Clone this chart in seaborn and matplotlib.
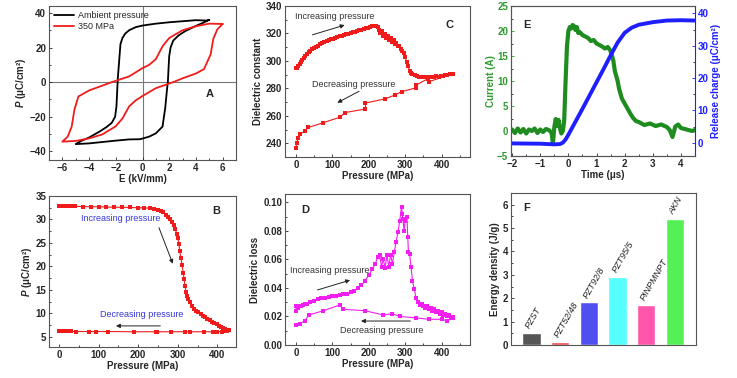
import numpy as np
import pandas as pd
import matplotlib
matplotlib.use('Agg')
import matplotlib.pyplot as plt
from matplotlib.ticker import MultipleLocator
import seaborn as sns

# --- data ---
# A: P-E hysteresis loops (closed paths)
amb_E = [5, 4.8, 4, 3, 2, 1, 0, -0.5, -1, -1.3, -1.5, -1.65, -1.75, -1.85, -1.9, -1.95, -2.05,
         -2.3, -2.7, -3.2, -4, -4.6, -5, -4, -3, -2, -1, -0.2, 0, 0.5, 1, 1.5, 1.7, 1.85, 1.9,
         1.95, 2.0, 2.1, 2.3, 2.7, 3.2, 4, 4.6, 5]
amb_P = [36, 35.6, 35.8, 35.2, 34.6, 33.8, 32.7, 31.8, 30, 28, 25.5, 22, 12, 2, -6, -14, -20,
         -23.5, -26, -28.5, -32, -34, -35.8, -35.4, -34.6, -33.8, -33.1, -33, -32.6, -31.5, -29.6,
         -25.7, -15, -3, 0, 8, 15, 20, 24, 27, 29.5, 32.5, 34.5, 36]
hp_E = [6, 5, 4, 3, 2, 1.5, 1, 0.5, 0, -1, -2.3, -3, -4, -4.8, -5.1, -5.3, -5.6, -6,
        -5, -4, -3, -2, -1.5, -1, -0.5, 0, 1, 2.3, 3, 4, 4.6, 5.1, 5.3, 5.6, 6]
hp_P = [33.6, 33.8, 32.3, 30, 25.5, 20.7, 13.3, 10, 8.1, 3.3, 0, -2, -4.8, -8.3, -16, -25.7, -31.5, -34.4,
        -34, -32.5, -30.2, -25.5, -21, -14, -10.5, -8, -3.5, 0, 2.2, 5, 7.5, 16, 25, 30.5, 33.6]

# B: remanent polarisation vs pressure
b_inc_p = [0, 10, 20, 30, 40, 60, 80, 100, 120, 140, 160, 180, 200, 215, 230, 240, 250, 258, 264,
           270, 276, 281, 286, 290, 294, 297, 300, 303, 305, 308, 311, 314, 316, 318, 321, 324, 327,
           331, 335, 340, 346, 352, 358, 364, 369, 375, 381, 386, 392, 398, 403, 409, 414, 419, 424, 428]
b_inc_v = [32.9, 32.9, 32.85, 32.85, 32.8, 32.75, 32.7, 32.7, 32.65, 32.6, 32.6, 32.55, 32.5, 32.45,
           32.4, 32.3, 32.1, 31.8, 31.5, 31.0, 30.6, 30.0, 29.4, 28.8, 27.9, 27.0, 26.0, 24.8, 23.2,
           21.8, 20.2, 18.6, 17.3, 15.8, 14.6, 13.6, 13.0, 12.3, 11.6, 11.0, 10.5, 10.2, 9.8, 9.4, 9.2,
           8.8, 8.5, 8.2, 7.9, 7.6, 7.2, 7.0, 6.8, 6.6, 6.5, 6.5]
b_dec_p = [430, 424, 418, 412, 400, 388, 366, 332, 318, 284, 248, 244, 190, 125, 93, 75, 42, 30,
           20, 12, 5, 0]
b_dec_v = [6.5, 6.3, 6.2, 6.1, 6.1, 6.05, 6.05, 6.05, 6.05, 6.05, 6.05, 6.05, 6.05, 6.1, 6.1,
           6.1, 6.1, 6.15, 6.2, 6.2, 6.25, 6.3]

# C: dielectric constant vs pressure
c_inc = [(0, 294.5), (3, 295), (6, 296), (10, 297.5), (14, 299), (18, 300.5), (22, 302), (26, 303.5),
         (30, 305), (35, 306.5), (40, 307.5), (45, 308.5), (50, 309.5), (55, 310.3), (60, 311),
         (66, 312), (72, 312.8), (78, 313.5), (84, 314.3), (90, 315), (96, 315.7), (102, 316.3),
         (108, 316.8), (114, 317.3), (120, 317.8), (126, 318.3), (132, 318.8), (138, 319.3),
         (144, 319.8), (150, 320.3), (156, 320.8), (162, 321.3), (168, 321.8), (174, 322.3),
         (180, 322.8), (186, 323.3), (192, 323.8), (198, 324.3), (204, 324.8), (210, 325.3),
         (216, 325.5), (220, 325.2), (224, 324.5), (228, 322.5), (232, 320.5), (236, 322),
         (240, 318.5), (244, 319.5), (248, 317), (252, 318), (256, 315.5), (260, 316.5),
         (264, 314), (268, 315), (272, 312), (276, 313), (280, 310.5), (284, 311), (288, 308.5),
         (292, 307), (296, 305.5), (300, 303), (304, 299), (308, 296), (312, 293), (316, 291.5),
         (320, 290.5), (326, 289.5), (332, 289), (338, 288.5), (344, 288), (350, 288.3),
         (356, 288), (362, 288.4), (368, 288.2), (374, 288.6), (380, 288.3), (386, 288.9),
         (392, 288.5), (398, 289.2), (404, 289), (410, 289.6), (416, 289.8), (422, 290.3), (428, 290.8)]
c_dec = [(430, 290.5), (366, 285), (362, 287), (331, 282.5), (331, 280.5), (290, 277.6),
         (272, 275.2), (244, 272.3), (191, 269.3), (191, 265), (134, 262.3), (121, 259),
         (75, 255), (34, 251.5), (25, 249), (11, 246.6), (6, 244), (2, 240), (0, 236.5)]

# D: dielectric loss vs pressure
d_inc = [(0, 0.024), (0, 0.027), (5, 0.026), (10, 0.027), (15, 0.0275), (20, 0.028), (25, 0.0285),
         (30, 0.029), (40, 0.030), (50, 0.031), (60, 0.032), (70, 0.033), (80, 0.033), (90, 0.0335),
         (100, 0.034), (110, 0.0345), (120, 0.035), (130, 0.0355), (140, 0.036), (150, 0.037),
         (160, 0.038), (170, 0.040), (180, 0.042), (190, 0.045), (200, 0.049), (210, 0.053),
         (218, 0.057), (225, 0.062), (230, 0.063), (235, 0.055), (240, 0.060), (245, 0.054),
         (250, 0.063), (255, 0.055), (260, 0.063), (265, 0.057), (270, 0.065), (275, 0.072),
         (280, 0.079), (285, 0.087), (290, 0.097), (292, 0.092), (294, 0.088), (297, 0.080),
         (300, 0.087), (305, 0.090), (307, 0.076), (309, 0.065), (312, 0.064), (316, 0.055),
         (320, 0.045), (325, 0.039), (330, 0.033), (335, 0.030), (340, 0.028), (345, 0.029),
         (350, 0.027), (355, 0.026), (360, 0.027), (365, 0.025), (370, 0.026), (375, 0.024),
         (380, 0.025), (385, 0.023), (390, 0.024), (395, 0.022), (400, 0.023), (405, 0.021),
         (410, 0.022), (415, 0.020), (420, 0.021), (425, 0.019), (430, 0.0195)]
d_dec = [(430, 0.019), (415, 0.017), (400, 0.018), (365, 0.018), (330, 0.019), (285, 0.020),
         (265, 0.022), (240, 0.021), (190, 0.024), (130, 0.025), (120, 0.028), (75, 0.024),
         (35, 0.021), (25, 0.017), (10, 0.015), (0, 0.014)]

# E: discharge current and released charge
t_cur = [-2.0, -1.9, -1.8, -1.7, -1.6, -1.5, -1.4, -1.3, -1.2, -1.1, -1.0, -0.9, -0.8, -0.7, -0.6,
         -0.55, -0.5, -0.45, -0.4, -0.35, -0.3, -0.25, -0.2, -0.15, -0.1, -0.05, 0.0, 0.05, 0.1,
         0.15, 0.2, 0.25, 0.3, 0.35, 0.4, 0.5, 0.6, 0.7, 0.8, 0.9, 1.0, 1.1, 1.2, 1.3, 1.4, 1.5,
         1.55, 1.6, 1.65, 1.7, 1.75, 1.8, 1.9, 2.0, 2.1, 2.2, 2.3, 2.4, 2.5, 2.7, 2.9, 3.1, 3.3,
         3.5, 3.6, 3.7, 3.8, 3.9, 4.0, 4.2, 4.4, 4.5]
current = [0.3, -0.4, 0.5, -0.3, 0.4, -0.5, 0.3, 0.0, 0.5, -0.4, 0.3, -0.2, 0.4, 0.2, -0.3,
           -2.5, 0.8, 2.4, 1.0, 2.2, 0.5, -0.5, 0.0, 2.0, 10.0, 17.0, 20.0, 20.8, 20.5, 21.2, 21.0,
           20.2, 20.8, 19.6, 19.8, 19.2, 18.9, 18.6, 18.0, 18.2, 17.5, 17.2, 16.9, 16.5, 16.8, 16.0,
           15.0, 14.0, 12.0, 11.0, 10.0, 8.5, 6.5, 5.5, 4.5, 3.5, 2.6, 2.0, 1.8, 1.2, 1.5, 1.0,
           1.3, 0.8, 0.2, -1.2, 0.9, 1.3, 0.6, 0.3, 0.0, 0.2]
t_chg = [-2.0, -1.0, -0.5, -0.3, -0.2, -0.1, 0.0, 0.25, 0.5, 0.75, 1.0, 1.25, 1.5, 1.75, 2.0,
         2.25, 2.5, 3.0, 3.5, 4.0, 4.5]
charge = [-0.2, -0.3, -0.5, -0.4, 0.0, 1.0, 2.5, 6.5, 10.5, 14.6, 18.7, 22.8, 27.0, 31.0, 34.0,
          35.6, 36.5, 37.3, 37.8, 37.9, 37.8]

# F: energy density of materials
materials = ['PZST', 'PZT52/48', 'PZT92/8', 'PZT95/5', 'PINPMNPT', 'AKN']
energy = [0.5, 0.12, 1.82, 2.92, 1.7, 5.4]
bar_colors = ['#555555', '#f04a4a', '#5050f0', '#55ffff', '#ff55aa', '#55f055']

RED = '#f01c1c'
MAG = '#f21ef2'
GREEN = '#1e8c1e'
BLUE = '#1e1eff'

sns.set_style('ticks')
plt.rcParams['font.family'] = ['Liberation Sans', 'DejaVu Sans']
plt.rcParams['mathtext.fontset'] = 'custom'
plt.rcParams['mathtext.it'] = 'Liberation Sans:italic:bold'
plt.rcParams['mathtext.rm'] = 'Liberation Sans:bold'

fig = plt.figure(figsize=(7.37, 3.78), dpi=100)
W, H = 737.0, 378.0


def make_ax(x0, y0, x1, y1):
    return fig.add_axes([x0 / W, 1 - y1 / H, (x1 - x0) / W, (y1 - y0) / H])


def style(ax, xminor, yminor):
    for s in ax.spines.values():
        s.set_color('#555555')
        s.set_linewidth(0.8)
    ax.tick_params(which='both', direction='in', width=0.6, labelsize=7, pad=2)
    ax.tick_params(which='major', length=2.5)
    ax.tick_params(which='minor', length=1.5)
    ax.xaxis.set_minor_locator(MultipleLocator(xminor))
    ax.yaxis.set_minor_locator(MultipleLocator(yminor))
    for lab in ax.get_xticklabels() + ax.get_yticklabels():
        lab.set_fontweight('bold')


def arrow(ax, start, end):
    ax.annotate('', xy=end, xytext=start,
                arrowprops=dict(arrowstyle='-|>', color='#222222', lw=0.7, mutation_scale=6))


lab_kw = dict(fontsize=7, fontweight='bold')

# ---- A ----
axA = make_ax(49, 6, 236, 160)
axA.axhline(0, color='#777777', lw=0.8, zorder=0)
axA.axvline(0, color='#777777', lw=0.8, zorder=0)
sns.lineplot(x=amb_E, y=amb_P, sort=False, estimator=None, color='black', lw=1.3,
             label='Ambient pressure', ax=axA)
sns.lineplot(x=hp_E, y=hp_P, sort=False, estimator=None, color=RED, lw=1.3,
             label='350 MPa', ax=axA)
axA.set_xlim(-7, 7)
axA.set_ylim(-45, 44)
axA.set_xticks([-6, -4, -2, 0, 2, 4, 6])
axA.set_yticks([-40, -20, 0, 20, 40])
axA.set_xticklabels(['\u22126', '\u22124', '\u22122', '0', '2', '4', '6'])
axA.set_yticklabels(['\u221240', '\u221220', '0', '20', '40'])
axA.set_xlabel('E (kV/mm)', labelpad=1, **lab_kw)
axA.set_ylabel(r'$P$ (μC/cm²)', labelpad=1, **lab_kw)
axA.legend(loc='upper left', frameon=False, fontsize=6.5, handlelength=2.2,
           borderaxespad=0.2, labelspacing=0.2, handletextpad=0.4)
axA.text(5.0, -6.8, 'A', fontsize=8, fontweight='bold', ha='center', va='center')
style(axA, 1, 10)

# ---- B ----
axB = make_ax(49, 196, 236, 347)
sns.lineplot(x=b_inc_p, y=b_inc_v, sort=False, estimator=None, color=RED, lw=0.8,
             marker='s', markersize=3, markeredgewidth=0, ax=axB)
sns.lineplot(x=b_dec_p, y=b_dec_v, sort=False, estimator=None, color=RED, lw=0.8,
             marker='s', markersize=3, markeredgewidth=0, ax=axB)
axB.set_xlim(-25, 447)
axB.set_ylim(2.8, 35)
axB.set_xticks([0, 100, 200, 300, 400])
axB.set_yticks([5, 10, 15, 20, 25, 30, 35])
axB.set_xlabel('Pressure (MPa)', labelpad=1, **lab_kw)
axB.set_ylabel(r'$P$ (μC/cm²)', labelpad=1, **lab_kw)
axB.text(155, 30.1, 'Increasing pressure', color='#3535d8', fontsize=6.5, ha='center', va='center')
arrow(axB, (250, 28.8), (290, 20))
axB.text(210, 9.7, 'Decreasing pressure', color='#3535d8', fontsize=6.5, ha='center', va='center')
arrow(axB, (263, 7.3), (137, 7.3))
axB.text(398, 31.8, 'B', fontsize=8, fontweight='bold', ha='center', va='center')
style(axB, 50, 2.5)

# ---- C ----
axC = make_ax(285, 6, 470, 157)
for pts in (c_inc, c_dec):
    px, pv = zip(*pts)
    sns.lineplot(x=list(px), y=list(pv), sort=False, estimator=None, color=RED, lw=0.8,
                 marker='s', markersize=3, markeredgewidth=0, ax=axC)
axC.set_xlim(-30, 478)
axC.set_ylim(230, 340)
axC.set_xticks([0, 100, 200, 300, 400])
axC.set_yticks([240, 260, 280, 300, 320, 340])
axC.set_xlabel('Pressure (MPa)', labelpad=1, **lab_kw)
axC.set_ylabel('Dielectric constant', labelpad=2, **lab_kw)
axC.text(106, 332.2, 'Increasing pressure', fontsize=6.5, ha='center', va='center', color='#333333')
arrow(axC, (38, 318.4), (141, 326.7))
axC.text(158, 283, 'Decreasing pressure', fontsize=6.5, ha='center', va='center', color='#333333')
arrow(axC, (180, 278.8), (107, 268.6))
axC.text(423, 326, 'C', fontsize=8, fontweight='bold', ha='center', va='center')
style(axC, 50, 10)

# ---- D ----
axD = make_ax(285, 194, 470, 345)
for pts in (d_inc, d_dec):
    px, pv = zip(*pts)
    sns.lineplot(x=list(px), y=list(pv), sort=False, estimator=None, color=MAG, lw=0.8,
                 marker='s', markersize=3, markeredgewidth=0, ax=axD)
axD.set_xlim(-30, 478)
axD.set_ylim(0, 0.1058)
axD.set_xticks([0, 100, 200, 300, 400])
axD.set_yticks([0.0, 0.02, 0.04, 0.06, 0.08, 0.10])
axD.set_yticklabels(['0.00', '0.02', '0.04', '0.06', '0.08', '0.10'])
axD.set_xlabel('Pressure (MPa)', labelpad=1, **lab_kw)
axD.set_ylabel('Dielectric loss', labelpad=2, **lab_kw)
axD.text(92, 0.052, 'Increasing pressure', fontsize=6.5, ha='center', va='center', color='#333333')
arrow(axD, (52, 0.038), (156, 0.046))
axD.text(235, 0.0105, 'Decreasing pressure', fontsize=6.5, ha='center', va='center', color='#333333')
arrow(axD, (322, 0.0168), (171, 0.0168))
axD.text(25, 0.0946, 'D', fontsize=8, fontweight='bold', ha='center', va='center')
style(axD, 50, 0.01)

# ---- E ----
axE = make_ax(511, 6, 695, 156)
sns.lineplot(x=t_cur, y=current, sort=False, estimator=None, color=GREEN, lw=3.0, ax=axE)
axE.set_xlim(-2.04, 4.5)
axE.set_ylim(-5, 25)
axE.set_xticks([-2, -1, 0, 1, 2, 3, 4])
axE.set_xticklabels(['\u22122', '\u22121', '0', '1', '2', '3', '4'])
axE.set_yticks([-5, 0, 5, 10, 15, 20, 25])
axE.set_yticklabels(['\u22125', '0', '5', '10', '15', '20', '25'])
axE.set_xlabel('Time (μs)', labelpad=1, **lab_kw)
axE.set_ylabel('Current (A)', labelpad=1, color='#2e9a2e', **lab_kw)
axE.text(-1.47, 21.2, 'E', fontsize=8, fontweight='bold', ha='center', va='center')
style(axE, 0.5, 2.5)
axE.tick_params(axis='y', colors='#2e9a2e')
axE.spines['right'].set_visible(False)
axE2 = axE.twinx()
sns.lineplot(x=t_chg, y=charge, sort=False, estimator=None, color=BLUE, lw=2.8, ax=axE2)
axE2.set_ylim(-4.1, 42.3)
axE2.set_yticks([0, 10, 20, 30, 40])
axE2.set_ylabel('Release charge (μC/cm²)', labelpad=2, color=BLUE, **lab_kw)
style(axE2, 0.5, 5)
axE2.tick_params(axis='y', colors=BLUE)
axE2.spines['right'].set_color(BLUE)
for lab in axE2.get_yticklabels():
    lab.set_fontweight('bold')

# ---- F ----
axF = make_ax(511, 193, 696, 345)
dfF = pd.DataFrame({'material': materials, 'energy': energy})
sns.barplot(data=dfF, x='material', y='energy', hue='material', palette=bar_colors,
            width=0.64, legend=False, saturation=1, ax=axF)
for i, (name, val) in enumerate(zip(materials, energy)):
    axF.text(i - 0.12, val + 0.22, name, rotation=60, rotation_mode='anchor', ha='left',
             va='center', fontsize=6.5, fontstyle='italic', color='#222222')
axF.set_xlim(-0.71, 5.73)
axF.set_ylim(0, 6.5)
axF.set_yticks([0, 1, 2, 3, 4, 5, 6])
axF.set_xticks([])
axF.set_xlabel('')
axF.set_ylabel('Energy density (J/g)', labelpad=2, **lab_kw)
axF.text(-0.15, 5.85, 'F', fontsize=8, fontweight='bold', ha='center', va='center')
style(axF, 1, 0.5)
axF.xaxis.set_minor_locator(plt.NullLocator())

fig.savefig('out.png', dpi=100)
